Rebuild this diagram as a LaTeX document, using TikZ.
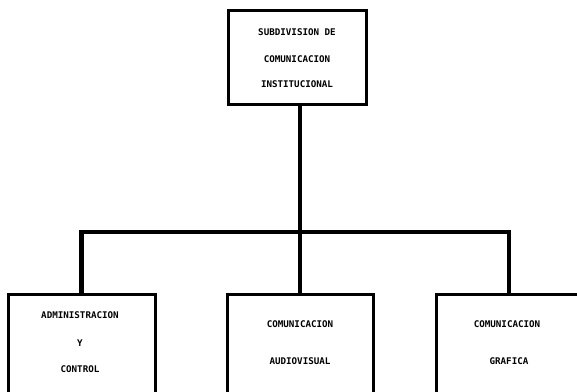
\documentclass[tikz,border=0pt]{standalone}
\usepackage{fontspec}
\newfontfamily\boxfont{DejaVu Sans Mono}
\begin{document}
\begin{tikzpicture}[x=1pt,y=-1pt,
  orgbox/.style={draw=black,line width=3pt,rectangle,inner sep=0pt},
  label/.style={font=\boxfont\bfseries\fontsize{9.2}{10}\selectfont,inner sep=0pt,text=black},
  link/.style={line width=4.4pt,line cap=rect}]
\useasboundingbox (0,0) rectangle (577,391);
\clip (0,0) rectangle (577,391);
% boxes
\node[orgbox,minimum width=138pt,minimum height=94pt] (top) at (297,57) {};
\node[orgbox,minimum width=147pt,minimum height=112pt] (left) at (81.5,350) {};
\node[orgbox,minimum width=146pt,minimum height=112pt] (mid) at (300,350) {};
\node[orgbox,minimum width=146pt,minimum height=112pt] (right) at (509,350) {};
% texts
\node[label] (t1) at (297,32) {SUBDIVISION DE};
\node[label] (t2) at (297,59) {COMUNICACION};
\node[label] (t3) at (297,84) {INSTITUCIONAL};
\node[label] (l1) at (80,315) {ADMINISTRACION};
\node[label] (l2) at (80,343) {Y};
\node[label] (l3) at (80,369) {CONTROL};
\node[label] (m1) at (300,324) {COMUNICACION};
\node[label] (m2) at (300,361) {AUDIOVISUAL};
\node[label] (r1) at (507,324) {COMUNICACION};
\node[label] (r2) at (509,361) {GRAFICA};
% connectors
\coordinate (jc) at (300,232);
\draw[link] (top.south -| jc) -- (jc);
\draw[link] (jc) -- (mid.north);
\draw[link] (left.north) -- (left.north |- jc) -- (right.north |- jc) -- (right.north);
\end{tikzpicture}
\end{document}
